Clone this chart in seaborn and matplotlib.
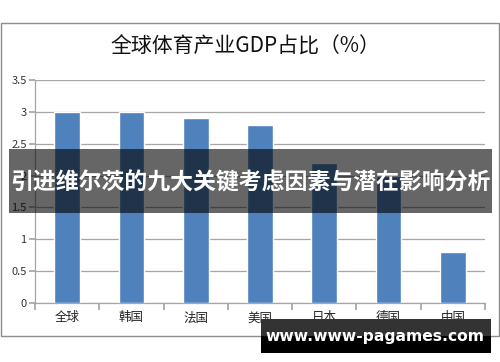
import matplotlib
matplotlib.use("Agg")
import matplotlib.pyplot as plt
import seaborn as sns
import pandas as pd
from matplotlib.patches import Rectangle

categories = ["全球", "韩国", "法国", "美国", "日本", "德国", "中国"]
values = [3.0, 3.0, 2.9, 2.8, 2.2, 2.0, 0.8]
y_ticks = [0, 0.5, 1, 1.5, 2, 2.5, 3, 3.5]
y_tick_labels = ["0", "0.5", "1", "1.5", "2", "2.5", "3", "3.5"]
title = "全球体育产业GDP占比（%）"
banner = "引进维尔茨的九大关键考虑因素与潜在影响分析"
watermark = "www.www-pagames.com"

sns.set_theme(style="white")
plt.rcParams['font.family'] = ['Noto Sans CJK SC', 'DejaVu Sans']

W, H = 500, 362
fig = plt.figure(figsize=(W / 100, H / 100), dpi=100)
fig.patch.set_facecolor("white")

def fx(px):
    return px / W

def fy(py):
    return 1 - py / H

ax = fig.add_axes([fx(35), fy(303), fx(485) - fx(35), fy(80) - fy(303)])
df = pd.DataFrame({"cat": categories, "val": values})
sns.barplot(data=df, x="cat", y="val", color="#4F81BD", width=0.4, ax=ax,
            saturation=1, zorder=3)
ax.set_xlim(-0.5, len(categories) - 0.5)
ax.set_ylim(0, 3.5)
ax.set_xlabel("")
ax.set_ylabel("")
ax.set_yticks(y_ticks)
ax.set_yticklabels(y_tick_labels, fontsize=8, color="#333333")
ax.yaxis.grid(True, color="#a6a6a6", lw=0.9, zorder=0)
ax.set_axisbelow(True)
for s in ["top", "right"]:
    ax.spines[s].set_visible(False)
for s in ["left", "bottom"]:
    ax.spines[s].set_color("#a6a6a6")
    ax.spines[s].set_linewidth(0.9)
ax.tick_params(axis="y", which="major", length=4, color="#a6a6a6", left=True, pad=2)
# category boundary ticks
ax.set_xticks([i - 0.5 for i in range(len(categories) + 1)])
ax.set_xticklabels([""] * (len(categories) + 1))
ax.tick_params(axis="x", which="major", length=5, color="#a6a6a6", bottom=True)
ax.set_xticks(list(range(len(categories))), minor=True)
ax.set_xticklabels(categories, minor=True, fontsize=9, color="#222222")
ax.tick_params(axis="x", which="minor", length=0, pad=6)

# chart border
fig.patches.append(Rectangle((fx(1), fy(336)), fx(498), fy(23) - fy(336),
                             transform=fig.transFigure, fill=False,
                             edgecolor="#8c8c8c", lw=1.0, zorder=1))
fig.text(fx(245), fy(47), title, ha="center", va="center", fontsize=15,
         fontweight="medium", color="#111111")

# banner overlay
fig.patches.append(Rectangle((fx(9), fy(213)), fx(483), fy(149) - fy(213),
                             transform=fig.transFigure, facecolor="black",
                             alpha=0.6, edgecolor="none", zorder=10))
fig.text(fx(250), fy(183), banner, ha="center", va="center", fontsize=16.5,
         fontweight="bold", color="white", zorder=11)

# watermark
fig.patches.append(Rectangle((fx(261), fy(336)), fx(230), fy(319) - fy(336),
                             transform=fig.transFigure, facecolor="#333333",
                             edgecolor="none", zorder=10))
fig.patches.append(Rectangle((fx(261), fy(353)), fx(230), fy(336) - fy(353),
                             transform=fig.transFigure, facecolor="black",
                             edgecolor="none", zorder=10))
fig.text(fx(375), fy(337), watermark, ha="center", va="center", fontsize=11.2,
         fontweight="bold", color="white", family=["DejaVu Sans"], zorder=11)

fig.savefig("out.png", dpi=100)
